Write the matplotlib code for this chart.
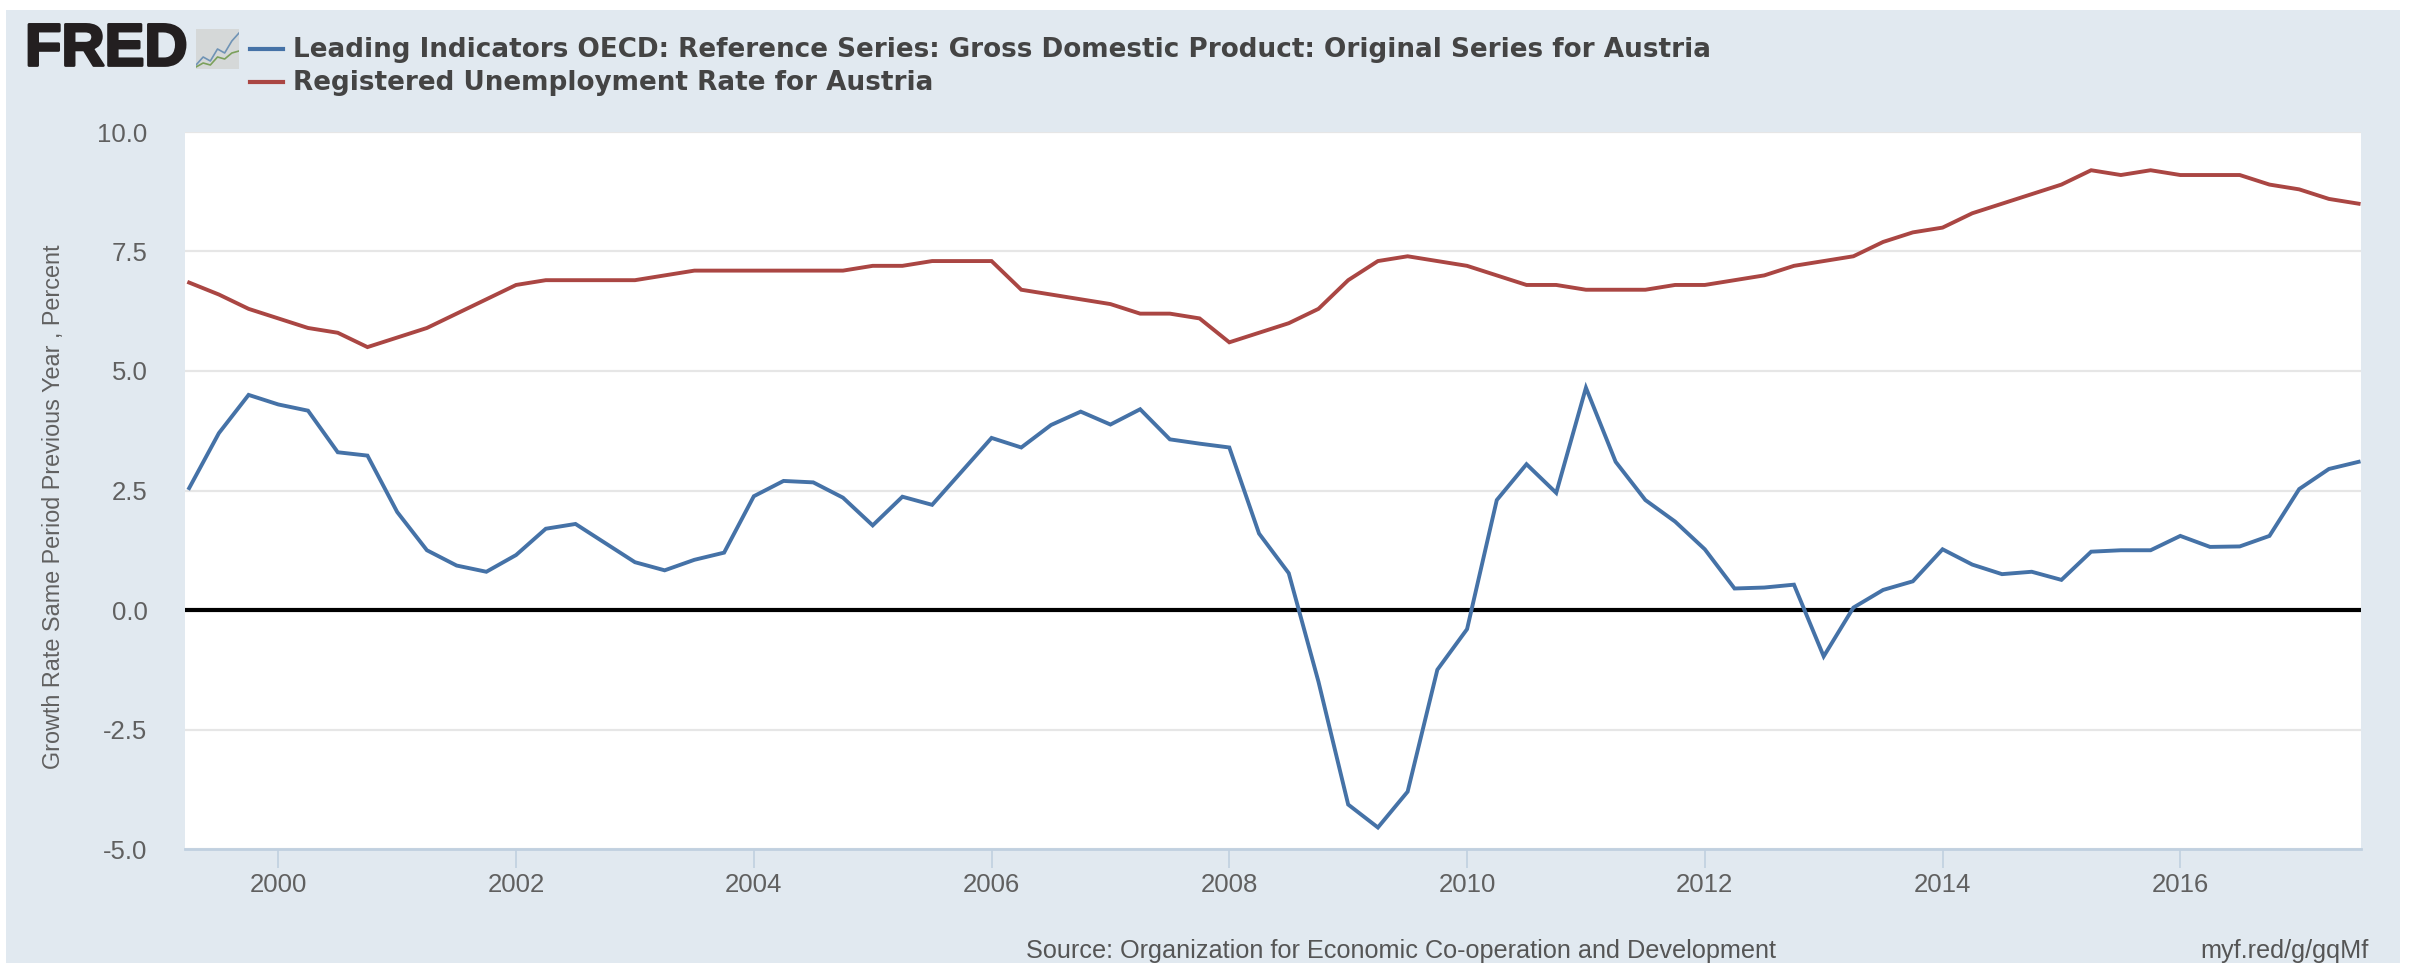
import numpy as np
import matplotlib
matplotlib.use("Agg")
import matplotlib.pyplot as plt
import matplotlib.patheffects as pe
from matplotlib.patches import Rectangle

W, H = 2415, 963

# quarterly, from 1999 Q2 to 2017 Q3
gdp = [2.55, 3.7, 4.5,
       4.3, 4.17, 3.3, 3.23,
       2.05, 1.25, 0.93, 0.8,
       1.15, 1.7, 1.8, 1.4,
       1.0, 0.83, 1.05, 1.2,
       2.38, 2.7, 2.67, 2.35,
       1.77, 2.37, 2.2, 2.9,
       3.6, 3.4, 3.87, 4.15,
       3.88, 4.2, 3.57, 3.48,
       3.4, 1.6, 0.77, -1.5,
       -4.07, -4.55, -3.8, -1.25,
       -0.4, 2.3, 3.05, 2.45,
       4.65, 3.1, 2.3, 1.85,
       1.27, 0.45, 0.47, 0.53,
       -0.97, 0.05, 0.42, 0.6,
       1.27, 0.95, 0.75, 0.8,
       0.63, 1.22, 1.25, 1.25,
       1.55, 1.32, 1.33, 1.55,
       2.53, 2.95, 3.1]
unemployment = [6.85, 6.6, 6.3,
                6.1, 5.9, 5.8, 5.5,
                5.7, 5.9, 6.2, 6.5,
                6.8, 6.9, 6.9, 6.9,
                6.9, 7.0, 7.1, 7.1,
                7.1, 7.1, 7.1, 7.1,
                7.2, 7.2, 7.3, 7.3,
                7.3, 6.7, 6.6, 6.5,
                6.4, 6.2, 6.2, 6.1,
                5.6, 5.8, 6.0, 6.3,
                6.9, 7.3, 7.4, 7.3,
                7.2, 7.0, 6.8, 6.8,
                6.7, 6.7, 6.7, 6.8,
                6.8, 6.9, 7.0, 7.2,
                7.3, 7.4, 7.7, 7.9,
                8.0, 8.3, 8.5, 8.7,
                8.9, 9.2, 9.1, 9.2,
                9.1, 9.1, 9.1, 8.9,
                8.8, 8.6, 8.5]
years = 1999.25 + 0.25 * np.arange(len(gdp))
x_ticks = [2000, 2002, 2004, 2006, 2008, 2010, 2012, 2014, 2016]
y_ticks = [-5.0, -2.5, 0.0, 2.5, 5.0, 7.5, 10.0]
gdp_name = "Leading Indicators OECD: Reference Series: Gross Domestic Product: Original Series for Austria"
unemp_name = "Registered Unemployment Rate for Austria"

BLUE = "#4572a7"
RED = "#aa4643"
PANEL = "#e1e9f0"


def fx(px):
    return px / W


def fy(px):
    return 1 - px / H


fig = plt.figure(figsize=(W / 100, H / 100), dpi=100, facecolor="white")
fig.patches.append(Rectangle((fx(6), 0), fx(2394), fy(10), transform=fig.transFigure,
                             facecolor=PANEL, edgecolor="none", zorder=-1))

left, right, top, bottom = 185, 2361, 132, 849
ax = fig.add_axes([fx(left), fy(bottom), fx(right - left), (bottom - top) / H])
ax.set_xlim(1999.215, 2017.52)
ax.set_ylim(-5, 10)
ax.set_facecolor("white")

ax.yaxis.grid(True, color="#e6e6e6", lw=1.6)
ax.set_axisbelow(True)
ax.axhline(0, color="black", lw=3, zorder=2)
ax.plot(years, gdp, color=BLUE, lw=2.8, zorder=3, solid_joinstyle="miter")
ax.plot(years, unemployment, color=RED, lw=2.8, zorder=3, solid_joinstyle="miter")

for s in ["top", "left", "right"]:
    ax.spines[s].set_visible(False)
ax.spines["bottom"].set_color("#c0d0e0")
ax.spines["bottom"].set_linewidth(2)

ax.set_xticks(x_ticks)
ax.set_xticklabels([str(v) for v in x_ticks])
ax.set_yticks(y_ticks)
ax.set_yticklabels(["%.1f" % v for v in y_ticks])
ax.tick_params(axis="x", length=14, width=1.2, color="#c0d0e0", labelsize=18.5,
               labelcolor="#606060", pad=3)
ax.tick_params(axis="y", length=0, labelsize=18.5, labelcolor="#606060", pad=27)
for t in ax.get_xticklabels() + ax.get_yticklabels():
    t.set_family("Liberation Sans")

fig.text(fx(54), fy(507), "Growth Rate Same Period Previous Year , Percent", rotation=90,
         ha="center", va="center", fontsize=16.8, color="#606060", family="Liberation Sans")

# legend
for name, colour, y in [(gdp_name, BLUE, 49), (unemp_name, RED, 82)]:
    fig.add_artist(plt.Line2D([fx(250), fx(283)], [fy(y), fy(y)], color=colour, lw=3))
    fig.text(fx(293), fy(y + 1), name, ha="left", va="center", fontsize=18.95, fontweight="bold",
             color="#444444", family="DejaVu Sans")

# logo
logo = fig.text(fx(25), fy(50), "FRED", ha="left", va="center", fontsize=43, fontweight="bold",
                color="#231f20", family="Liberation Sans")
logo.set_path_effects([pe.withStroke(linewidth=2, foreground="#231f20")])
icon = fig.add_axes([fx(196), fy(69), fx(43), 40 / H])
icon.set_facecolor("#d5d8d8")
icon.set_xticks([])
icon.set_yticks([])
for s in icon.spines.values():
    s.set_visible(False)
icon.plot([0, 1, 2, 3, 4, 5, 6], [1, 3, 2, 5, 4, 7, 9], color="#6f93b5", lw=1.2)
icon.plot([0, 1, 2, 3, 4, 5, 6], [0.5, 1.5, 1, 3, 2.5, 4, 4.5], color="#7ba05b", lw=1.2)
icon.set_ylim(0, 10)
icon.set_xlim(0, 6)

fig.text(fx(1026), fy(951), "Source: Organization for Economic Co-operation and Development",
         ha="left", va="center", fontsize=18.2, color="#555555", family="Liberation Sans")
fig.text(fx(2369), fy(951), "myf.red/g/gqMf", ha="right", va="center", fontsize=18.2,
         color="#555555", family="Liberation Sans")

fig.savefig("out.png", dpi=100)
